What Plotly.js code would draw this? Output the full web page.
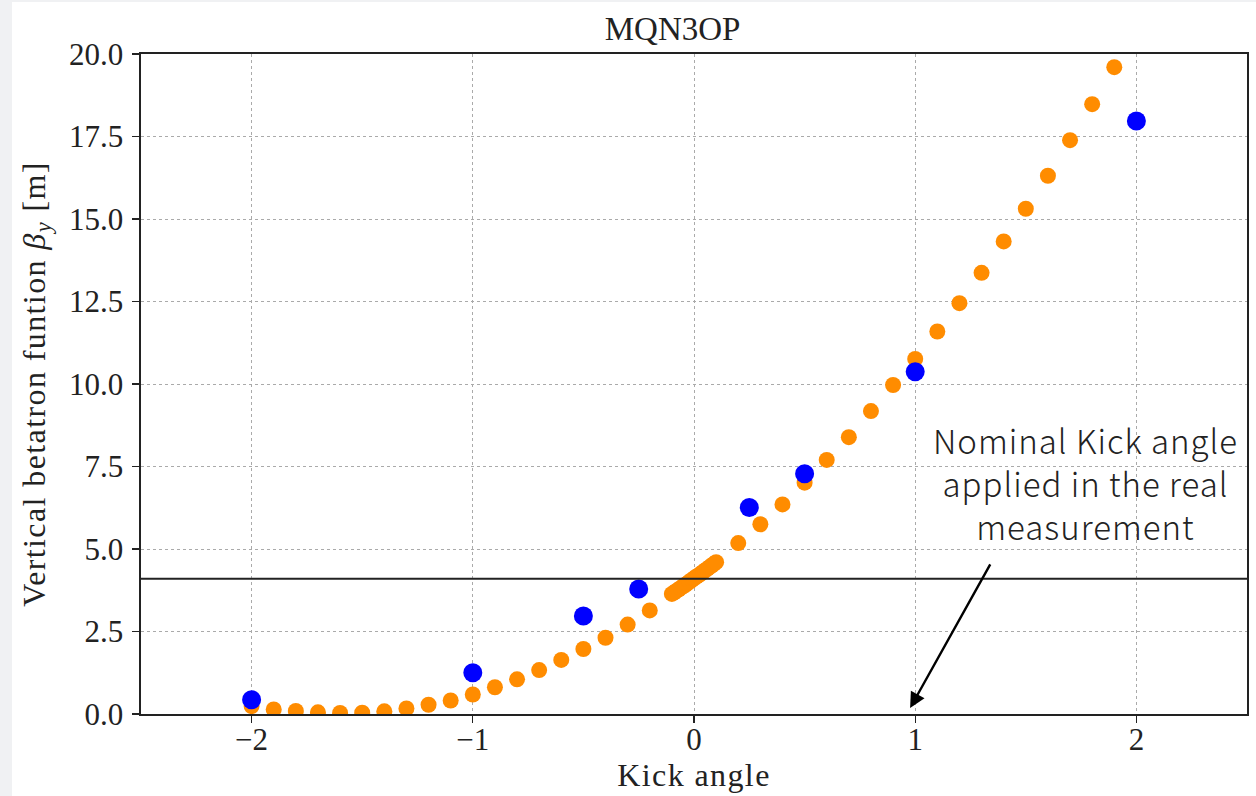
<!DOCTYPE html>
<html>
<head>
<meta charset="utf-8">
<script src="https://cdn.plot.ly/plotly-3.0.1.min.js"></script>
<style>
  html, body { margin: 0; padding: 0; background: #f0f1f3; width: 1256px; height: 796px; overflow: hidden; }
  #chart { position: absolute; left: 12px; top: 2px; width: 1244px; height: 794px; background: #ffffff; }
  /* slightly wider setting for the axis titles and the note */
  #chart .ytitle, #chart .xtitle { letter-spacing: 1.4px; }
  #chart .annotation-text { letter-spacing: 1px; }
</style>
</head>
<body>
<div id="chart"></div>
<script>
// Simulated scan of the kick angle (orange) and measured points (blue)
const scanKick = [
  -2.0, -1.9, -1.8, -1.7, -1.6, -1.5, -1.4, -1.3, -1.2, -1.1,
  -1.0, -0.9, -0.8, -0.7, -0.6, -0.5, -0.4, -0.3, -0.2,
  -0.10, -0.09, -0.08, -0.07, -0.06, -0.05, -0.04, -0.03, -0.02, -0.01,
  0.00, 0.01, 0.02, 0.03, 0.04, 0.05, 0.06, 0.07, 0.08, 0.09, 0.10,
  0.2, 0.3, 0.4, 0.5, 0.6, 0.7, 0.8, 0.9, 1.0,
  1.1, 1.2, 1.3, 1.4, 1.5, 1.6, 1.7, 1.8, 1.9
];
const scanBeta = [
  0.24, 0.14, 0.09, 0.05, 0.03, 0.04, 0.08, 0.17, 0.28, 0.41,
  0.59, 0.81, 1.05, 1.33, 1.64, 1.97, 2.31, 2.71, 3.14,
  3.64, 3.68, 3.73, 3.77, 3.82, 3.87, 3.91, 3.96, 4.01, 4.06,
  4.11, 4.16, 4.20, 4.25, 4.30, 4.35, 4.40, 4.45, 4.50, 4.55, 4.60,
  5.18, 5.75, 6.35, 7.01, 7.70, 8.39, 9.18, 9.97, 10.76,
  11.59, 12.45, 13.37, 14.32, 15.31, 16.31, 17.39, 18.48, 19.60
];
const measKick = [-2, -1, -0.5, -0.25, 0.25, 0.5, 1, 2];
const measBeta = [0.43, 1.25, 2.97, 3.79, 6.26, 7.28, 10.37, 17.97];

// Reference level of the vertical beta function
const nominalBeta = 4.1;

// Note text and its arrow
const noteText = 'Nominal Kick angle<br>applied in the real<br>measurement';
const notePos = [1.772, 7.0];
const arrowHead = [0.977, 0.18];
const arrowTail = [1.343, 4.58];

const yTicks = [0, 2.5, 5, 7.5, 10, 12.5, 15, 17.5, 20];
const xTicks = [-2, -1, 0, 1, 2];

const serif = 'Liberation Serif, Times New Roman, serif';
const sans = 'Noto Sans CJK JP, Noto Sans, sans-serif';

const traces = [
  {
    x: scanKick, y: scanBeta, type: 'scatter', mode: 'markers',
    marker: { color: '#ff8c00', size: 16, line: { width: 0 } },
    hoverinfo: 'skip'
  },
  {
    x: measKick, y: measBeta, type: 'scatter', mode: 'markers',
    marker: { color: '#0000ff', size: 19, line: { width: 0 } },
    hoverinfo: 'skip'
  }
];

const axisCommon = {
  showline: true, mirror: true, linecolor: '#222', linewidth: 1.6,
  ticks: 'outside', ticklen: 7, tickwidth: 1.4, tickcolor: '#222',
  showgrid: true, gridcolor: '#aaaaaa', gridwidth: 1, griddash: 'dot',
  zeroline: false,
  tickfont: { family: serif, size: 31, color: '#222' }
};

const layout = {
  width: 1244, height: 794,
  paper_bgcolor: '#ffffff', plot_bgcolor: '#ffffff',
  margin: { l: 129, r: 9, t: 52, b: 82 },
  showlegend: false,
  title: {
    text: 'MQN3OP',
    font: { family: serif, size: 33, color: '#222' },
    x: 0.531, xref: 'container', xanchor: 'center',
    y: 0.967, yref: 'container', yanchor: 'middle'
  },
  xaxis: Object.assign({}, axisCommon, {
    range: [-2.5, 2.5], tickvals: xTicks,
    ticklabelposition: 'outside', ticklabelstandoff: -10,
    title: { text: 'Kick angle', font: { family: serif, size: 32, color: '#222' }, standoff: 4 }
  }),
  yaxis: Object.assign({}, axisCommon, {
    range: [0, 20], tickvals: yTicks, tickformat: '.1f', ticklabelstandoff: 3,
    title: {
      text: 'Vertical betatron funtion <i>β</i><sub><i>y</i></sub> [m]',
      font: { family: serif, size: 32, color: '#222' }, standoff: 14
    }
  }),
  shapes: [
    {
      type: 'line', xref: 'paper', x0: 0, x1: 1, yref: 'y', y0: nominalBeta, y1: nominalBeta,
      line: { color: '#222', width: 2 }
    }
  ],
  annotations: [
    {
      xref: 'x', yref: 'y', x: notePos[0], y: notePos[1],
      text: noteText, showarrow: false, align: 'center', xanchor: 'center', yanchor: 'middle',
      font: { family: sans, size: 33, color: '#222', weight: 300 }
    },
    {
      xref: 'x', yref: 'y', x: arrowHead[0], y: arrowHead[1],
      axref: 'x', ayref: 'y', ax: arrowTail[0], ay: arrowTail[1],
      text: '', showarrow: true, arrowhead: 2, arrowsize: 1.3, arrowwidth: 2.4,
      arrowcolor: '#000'
    }
  ]
};

Plotly.newPlot('chart', traces, layout, { staticPlot: true, displayModeBar: false });
</script>
</body>
</html>
